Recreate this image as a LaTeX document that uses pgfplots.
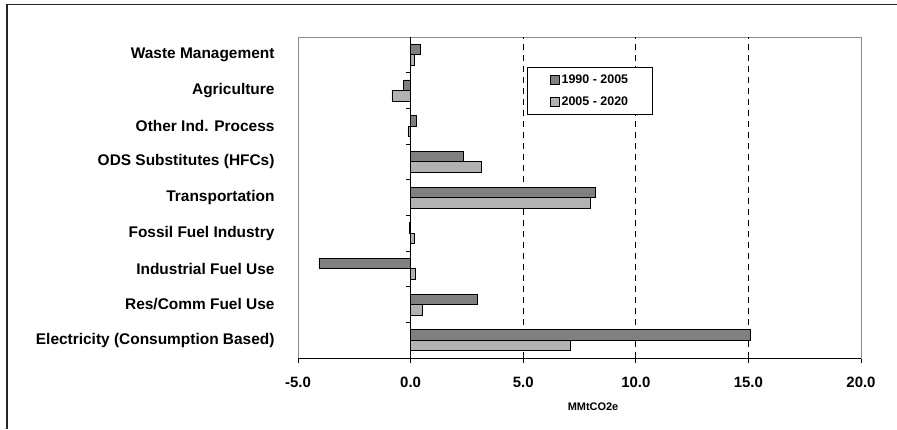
\documentclass[border=0pt]{standalone}
\usepackage{fontspec}
\setmainfont{Liberation Sans}
\usepackage{pgfplots}
\pgfplotsset{compat=1.18}
\definecolor{darkbar}{HTML}{808080}
\definecolor{lightbar}{HTML}{B2B2B2}
\begin{document}
\begin{tikzpicture}[x=1bp,y=1bp]
\useasboundingbox (0,0) rectangle (897,429);
% outer chart frame (cut off at right and bottom)
\draw[line width=1.5bp, black!85] (7,0) -- (7,424.5) -- (897,424.5);
\begin{axis}[
    at={(298bp,71bp)}, anchor=south west,
    width=563bp, height=321bp, scale only axis,
    xbar, bar width=10.5bp,
    xmin=-5, xmax=20, ymin=-0.5, ymax=8.5,
    xtick={-5,0,5,10,15,20},
    xtick pos=lower,
    ytick={0,...,8},
    yticklabels={Electricity (Consumption Based), Res/Comm Fuel Use, Industrial Fuel Use, Fossil Fuel Industry, Transportation, ODS Substitutes (HFCs), Other Ind. Process, Agriculture, Waste Management},
    ytick style={draw=none},
    yticklabel style={font=\fontsize{15.5}{17}\selectfont\bfseries, xshift=-15bp},
    xticklabel style={font=\fontsize{15}{17}\selectfont\bfseries, yshift=-11bp},
    /pgf/number format/.cd, fixed, fixed zerofill, precision=1, assume math mode=true,
    /pgfplots/.cd,
    tick align=outside, major tick length=5bp,
    xtick style={black, line width=0.8bp},
    axis line style={draw=black!45, line width=0.9bp},
    extra x ticks={5,10,15},
    extra x tick labels={},
    extra x tick style={grid=major, major grid style={black, dash pattern=on 6bp off 5bp, line width=0.8bp}},
    xlabel={MMtCO2e},
    xlabel style={font=\fontsize{11}{12}\selectfont\bfseries, at={(rel axis cs:0.524,0)}, anchor=north, inner sep=0pt, yshift=-45bp},
    legend style={at={(rel axis cs:0.407,0.907)}, anchor=north west, draw=black, line width=0.8bp,
        font=\fontsize{12.5}{14}\selectfont\bfseries, inner xsep=22bp, inner ysep=5bp, row sep=7bp,
        nodes={inner sep=2.5bp}},
    legend cell align=left,
    legend image code/.code={\draw[#1, draw=black, line width=0.6bp] (0bp,-4.5bp) rectangle (9bp,4.5bp);},
]
\addplot[fill=darkbar, draw=black, line width=0.8bp, bar shift=5.25bp] coordinates {
    (15.08,0) (2.96,1) (-4.07,2) (-0.05,3) (8.20,4) (2.33,5) (0.25,6) (-0.30,7) (0.43,8)
};
\addlegendentry{1990 - 2005}
\addplot[fill=lightbar, draw=black, line width=0.8bp, bar shift=-5.25bp] coordinates {
    (7.09,0) (0.52,1) (0.20,2) (0.15,3) (8.00,4) (3.13,5) (-0.12,6) (-0.83,7) (0.15,8)
};
\addlegendentry{2005 - 2020}
% zero line with category ticks, and black category axis
\draw[black, line width=1bp] (axis cs:0,-0.5) -- (axis cs:0,8.5);
\pgfplotsinvokeforeach{0.5,1.5,2.5,3.5,4.5,5.5,6.5,7.5}{
    \draw[black, line width=0.8bp] (axis cs:0,#1) -- ++(-5bp,0bp);
}
\draw[black, line width=1bp] (rel axis cs:0,0) -- (rel axis cs:1,0);
\end{axis}
\end{tikzpicture}
\end{document}
